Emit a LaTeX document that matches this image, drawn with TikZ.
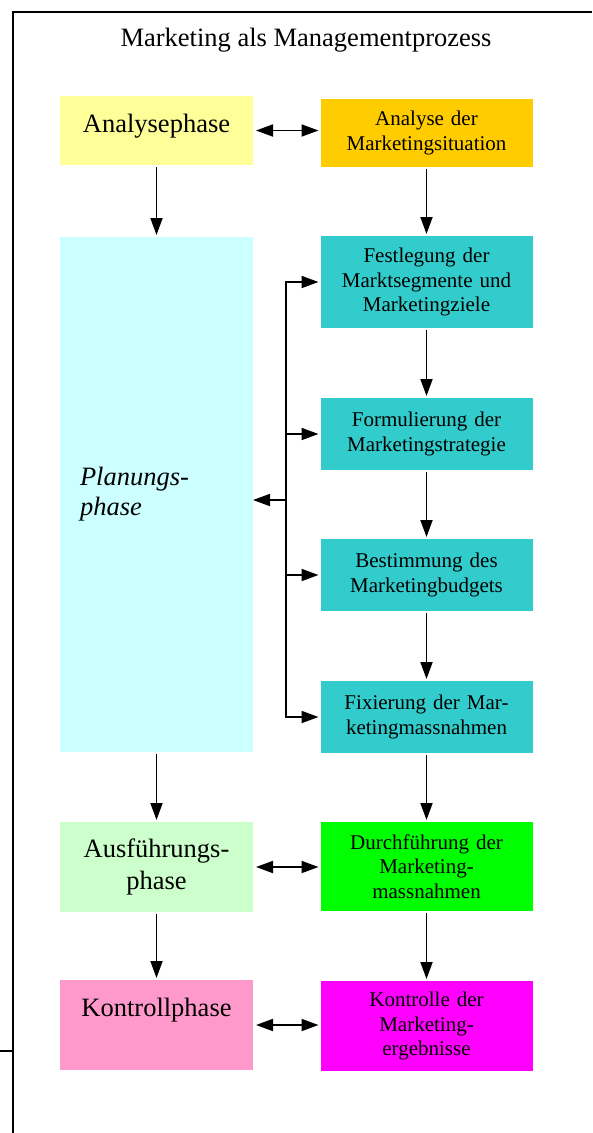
\documentclass[tikz,border=0pt]{standalone}
\usepackage{fontspec}
\setmainfont{Liberation Serif}
\usepackage{tikz}
\usetikzlibrary{arrows.meta, positioning}
\definecolor{anayellow}{HTML}{FFFF99}
\definecolor{anaorange}{HTML}{FFCC00}
\definecolor{plancyan}{HTML}{CCFFFF}
\definecolor{planteal}{HTML}{33CCCC}
\definecolor{ausgreen}{HTML}{CCFFCC}
\definecolor{durchgreen}{HTML}{00FF00}
\definecolor{konpink}{HTML}{FF99CC}
\definecolor{konmagenta}{HTML}{FF00FF}
\tikzset{
  title/.style={font=\fontsize{26.5}{32}\selectfont, inner sep=0pt},
  phase/.style={rectangle, inner sep=0pt, outer sep=0pt,
    text width=193pt, align=center, text height=36pt,
    font=\fontsize{26.5}{32}\selectfont},
  planphase/.style={rectangle, inner xsep=20pt, inner ysep=0pt, outer sep=0pt,
    text width=153pt, align=left, minimum height=515pt,
    font=\fontsize{26.5}{30}\selectfont\itshape},
  task/.style={rectangle, inner sep=0pt, outer sep=0pt,
    text width=212pt, align=center,
    font=\fontsize{21}{24.5}\selectfont},
  tip/.tip={Triangle[length=17pt 0, width=12pt 0]},
  arrow/.style={-tip, line width=1.8pt,
    shorten >=2pt, shorten <=2pt},
  dblarrow/.style={tip-tip, line width=1.8pt, shorten >=2pt, shorten <=3pt},
  line/.style={line width=1.8pt, line cap=rect},
  frame/.style={line width=2pt}
}
\begin{document}
\begin{tikzpicture}[x=1pt, y=-1pt]
  \useasboundingbox (0,0) rectangle (592,1133);
  \draw[frame] (592,12) -- (12.5,12) -- (12.5,1133);
  \draw[frame] (0,1051) -- (12.5,1051);

  \node[title, anchor=base] (title) at (306,46) {Marketing als Managementprozess};

  \node[phase, fill=anayellow, text depth=33pt] (ana) at (156.5,130.5) {Analysephase};
  \node[planphase, fill=plancyan, below=72pt of ana] (plan) {Planungs-\\phase};
  \node[phase, fill=ausgreen, text depth=55pt, text height=35pt, below=70pt of plan] (aus) {Ausführungs-\\phase};
  \node[phase, fill=konpink, text depth=54pt, below=68pt of aus] (kon) {Kontrollphase};

  \node[task, fill=anaorange, minimum height=68pt] (sit) at (426.5,133) {Analyse der\\Marketingsituation};
  \node[task, fill=planteal, minimum height=92pt, below=69pt of sit] (festl) {Festlegung der\\Marktsegmente und\\Marketingziele};
  \node[task, fill=planteal, minimum height=72pt, below=70pt of festl] (form) {Formulierung der\\Marketingstrategie};
  \node[task, fill=planteal, minimum height=72pt, below=69pt of form] (budg) {Bestimmung des\\Marketingbudgets};
  \node[task, fill=planteal, minimum height=72pt, below=70pt of budg] (fix) {Fixierung der Mar-\\ketingmassnahmen};
  \node[task, fill=durchgreen, minimum height=89pt, below=69pt of fix] (durch) {Durchführung der\\Marketing-\\massnahmen};
  \node[task, fill=konmagenta, minimum height=90pt, below=70pt of durch] (kontr) {Kontrolle der\\Marketing-\\ergebnisse};

  \draw[arrow] (ana) -- (plan);
  \draw[arrow] (plan) -- (aus);
  \draw[arrow] (aus) -- (kon);

  \draw[arrow] (sit) -- (festl);
  \draw[arrow] (festl) -- (form);
  \draw[arrow] (form) -- (budg);
  \draw[arrow] (budg) -- (fix);
  \draw[arrow] (fix) -- (durch);
  \draw[arrow] (durch) -- (kontr);

  \draw[dblarrow] (ana.east) -- (ana.east -| sit.west);
  \draw[dblarrow] (aus.east) -- (aus.east -| durch.west);
  \draw[dblarrow] (kon.east) -- (kon.east -| kontr.west);

  \coordinate (bus) at (286,500);
  \draw[line] (bus |- festl.west) -- (bus |- fix.west);
  \foreach \n in {festl, form, budg, fix}
    \draw[arrow, shorten <=0pt] (bus |- \n.west) -- (\n.west);
  \draw[arrow, shorten <=0pt, shorten >=0pt] (bus) -- (bus -| plan.east);
\end{tikzpicture}
\end{document}
